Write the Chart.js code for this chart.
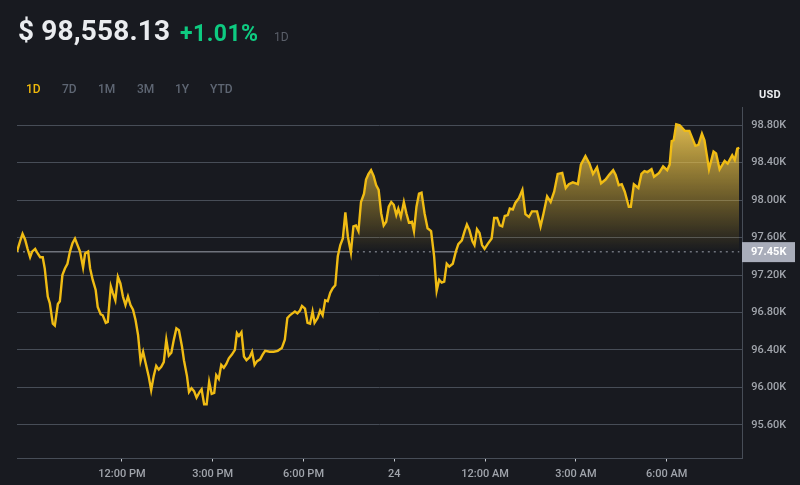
<!DOCTYPE html>
<html>
<head>
<meta charset="utf-8">
<title>BTC</title>
<script src="https://cdn.jsdelivr.net/npm/chart.js@4"></script>
<style>
html, body { margin: 0; padding: 0; background: #181a20; overflow: hidden; }
body { width: 800px; height: 485px; position: relative; font-family: Roboto, sans-serif; }
canvas { position: absolute; left: 0; top: 0; }
.txt { position: absolute; white-space: nowrap; line-height: 1; }
#price { left: 18px; top: 17px; font-size: 28px; font-weight: 700; color: #eaecef; letter-spacing: 0.15px; }
#change { left: 180px; top: 22px; font-size: 23px; font-weight: 700; color: #0ecb81; letter-spacing: 0.45px; }
#period { left: 274px; top: 31px; font-size: 12px; color: #5a5f69; }
.range { top: 83px; font-size: 12px; color: #5e6673; font-weight: 500; }
#usd { left: 759px; top: 89px; font-size: 11px; font-weight: 700; color: #eaecef; letter-spacing: 0.3px; }
</style>
</head>
<body>
<canvas id="myChart" width="800" height="485"></canvas>
<div class="txt" id="price">$ 98,558.13</div>
<div class="txt" id="change">+1.01%</div>
<div class="txt" id="period">1D</div>
<div class="txt range" style="left:26px;color:#f0b90b">1D</div>
<div class="txt range" style="left:62px">7D</div>
<div class="txt range" style="left:98px">1M</div>
<div class="txt range" style="left:137px">3M</div>
<div class="txt range" style="left:175px">1Y</div>
<div class="txt range" style="left:210px">YTD</div>
<div class="txt" id="usd">USD</div>
<script>
// minutes since the start of the 24h window
var minutes = [
  0,6,11,16,21,26,30,36,41,46,51,55,61,65,71,75,81,85,90,95,100,105,110,115,120,125,131,135,141,145,
  150,156,160,166,170,176,180,186,190,195,200,205,210,215,220,225,230,235,240,245,250,255,261,266,271,276,281,286,291,296,
  301,306,311,316,321,327,331,337,341,346,351,356,362,366,371,376,381,386,391,395,400,405,410,415,420,426,432,436,440,445,
  450,455,461,466,471,476,482,487,492,501,509,517,525,531,536,541,546,551,556,561,565,571,576,581,586,590,596,601,606,611,
  616,621,626,631,636,641,646,651,656,662,667,672,677,682,688,692,697,702,707,712,717,722,727,732,737,742,747,752,756,761,
  767,772,777,783,787,792,797,802,808,814,821,827,832,837,842,847,852,857,864,870,875,882,887,892,897,903,907,912,917,922,
  927,933,941,946,952,957,962,967,973,977,983,988,995,1002,1008,1015,1021,1031,1038,1044,1051,1058,1065,1072,1081,1088,1094,1102,1112,1118,
  1127,1135,1142,1150,1158,1167,1174,1182,1187,1193,1199,1205,1213,1217,1223,1232,1238,1244,1250,1258,1263,1273,1281,1289,1294,1298,1302,1307,1314,1324,
  1333,1345,1351,1358,1363,1372,1381,1386,1393,1403,1409,1418,1423,1428,1432
];
// price in thousands of USD
var prices = [
  97.45,97.56,97.64,97.58,97.48,97.39,97.45,97.48,97.43,97.39,97.39,97.27,96.97,96.90,96.68,96.66,96.89,96.92,97.20,97.27,97.32,97.45,97.54,97.59,97.52,97.45,97.28,97.43,97.45,97.27,
  97.15,97.04,96.86,96.78,96.77,96.69,96.70,97.08,97.01,96.93,97.18,97.11,96.97,96.88,96.97,96.88,96.83,96.72,96.56,96.28,96.38,96.26,96.12,95.97,96.12,96.23,96.19,96.22,96.27,96.51,
  96.34,96.37,96.51,96.63,96.61,96.44,96.29,96.12,95.95,95.99,95.96,95.89,95.95,95.98,95.82,95.82,96.06,95.93,95.94,96.13,96.09,96.24,96.21,96.25,96.31,96.35,96.40,96.58,96.55,96.59,
  96.33,96.29,96.32,96.38,96.24,96.28,96.30,96.35,96.39,96.38,96.38,96.39,96.42,96.51,96.74,96.77,96.79,96.81,96.79,96.82,96.87,96.84,96.69,96.68,96.81,96.69,96.74,96.82,96.77,96.93,
  96.92,97.01,97.06,97.09,97.40,97.52,97.59,97.87,97.61,97.44,97.72,97.73,97.67,97.98,98.07,98.22,98.28,98.32,98.26,98.16,98.11,97.86,97.73,97.77,97.93,97.98,97.95,97.84,97.91,97.82,
  97.98,97.86,97.76,97.77,97.67,97.93,98.07,98.08,97.86,97.70,97.67,97.40,97.03,97.15,97.12,97.13,97.32,97.29,97.32,97.45,97.53,97.57,97.66,97.74,97.68,97.56,97.52,97.69,97.65,97.52,
  97.48,97.53,97.59,97.81,97.81,97.73,97.72,97.83,97.84,97.91,97.90,97.97,98.02,98.11,97.85,97.82,97.88,97.88,97.72,97.86,98.04,97.98,98.09,98.28,98.29,98.13,98.17,98.19,98.17,98.38,
  98.47,98.39,98.28,98.35,98.18,98.22,98.27,98.32,98.27,98.16,98.17,98.09,97.93,97.93,98.17,98.13,98.28,98.31,98.30,98.33,98.25,98.29,98.36,98.32,98.38,98.63,98.64,98.81,98.80,98.74,
  98.74,98.58,98.59,98.71,98.64,98.33,98.52,98.50,98.33,98.42,98.39,98.48,98.43,98.55,98.56
];
var openPrice = 97.45;
var priceTicks = [95.6, 96, 96.4, 96.8, 97.2, 97.6, 98, 98.4, 98.8];
var timeTicks = [208, 388, 568, 748, 928, 1108, 1288];
var timeLabels = ["12:00 PM", "3:00 PM", "6:00 PM", "24", "12:00 AM", "3:00 AM", "6:00 AM"];
// stretches where the open price line shows solid instead of dotted
var solidRanges = [[46, 660], [825, 870]];

var gridColor = "#474d57";
var labelColor = "#a0a4ab";
var labelFont = { family: "Roboto, sans-serif", size: 11, weight: "500" };

var priceTag = {
  id: "priceTag",
  afterDraw: function (chart) {
    var c = chart.ctx;
    var y = chart.scales.y.getPixelForValue(openPrice);
    c.save();
    c.fillStyle = "#a9adba";
    c.fillRect(742, y - 9.5, 53, 20);
    c.fillStyle = "#ffffff";
    c.font = "700 11px Roboto, sans-serif";
    c.textBaseline = "middle";
    c.fillText(openPrice.toFixed(2) + "K", 751, y + 1);
    c.restore();
  }
};

var ctx = document.getElementById("myChart");

var myChart = new Chart(ctx, {
  type: "line",
  data: {
    datasets: [
      {
        data: minutes.map(function (m, i) { return { x: m, y: prices[i] }; }),
        borderColor: "#f0bc14",
        borderWidth: 2.4,
        pointRadius: 0,
        tension: 0,
        fill: { target: { value: openPrice }, above: "rgba(240,185,11,0.4)", below: "rgba(0,0,0,0)" },
        order: 1
      },
      {
        data: minutes.map(function (m) { return { x: m, y: openPrice }; }),
        borderColor: "#6f737c",
        borderWidth: 1.5,
        pointRadius: 0,
        fill: false,
        order: 2,
        segment: {
          borderDash: function (c) {
            var m = c.p0.parsed.x;
            var solid = solidRanges.some(function (r) { return m >= r[0] && m < r[1]; });
            return solid ? [] : [2, 4];
          }
        }
      }
    ]
  },
  options: {
    responsive: false,
    animation: false,
    layout: { padding: { left: 17, top: 107 } },
    plugins: { legend: { display: false }, tooltip: { enabled: false } },
    scales: {
      x: {
        type: "linear",
        min: 0,
        max: 1438,
        afterBuildTicks: function (axis) {
          axis.ticks = timeTicks.map(function (v) { return { value: v }; });
        },
        afterFit: function (axis) { axis.height = 26.5; },
        grid: { drawOnChartArea: false, drawTicks: true, tickLength: 3, color: "#c8ccd2" },
        border: { color: gridColor },
        ticks: {
          color: labelColor,
          font: labelFont,
          padding: 6,
          maxRotation: 0,
          autoSkip: false,
          callback: function (v) { return timeLabels[timeTicks.indexOf(v)]; }
        }
      },
      y: {
        position: "right",
        min: 95.24,
        max: 98.995,
        afterBuildTicks: function (axis) {
          axis.ticks = priceTicks.map(function (v) { return { value: v }; });
        },
        afterFit: function (axis) { axis.width = 57.7; },
        grid: { drawTicks: false, color: gridColor },
        border: { color: gridColor },
        ticks: {
          color: labelColor,
          font: labelFont,
          padding: 9,
          callback: function (v) { return v.toFixed(2) + "K"; }
        }
      }
    }
  },
  plugins: [priceTag]
});

// gradient fill needs the scale pixels, so it is set once the chart exists
var yScale = myChart.scales.y;
var grad = myChart.ctx.createLinearGradient(0, yScale.getPixelForValue(98.8), 0, yScale.getPixelForValue(openPrice));
grad.addColorStop(0, "rgba(238,200,85,0.9)");
grad.addColorStop(1, "rgba(238,190,40,0)");
myChart.data.datasets[0].fill.above = grad;
myChart.update("none");
</script>
</body>
</html>
